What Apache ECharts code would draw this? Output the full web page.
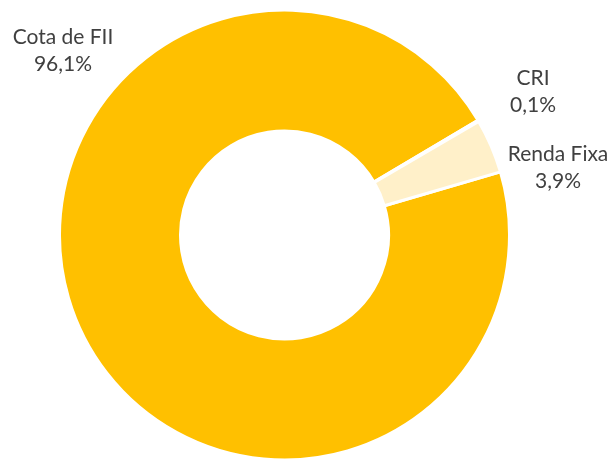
<!DOCTYPE html>
<html>
<head>
<meta charset="utf-8">
<script src="https://cdn.jsdelivr.net/npm/echarts@6/dist/echarts.min.js"></script>
<style>
  html, body { margin: 0; padding: 0; background: #ffffff; }
  #chart { width: 613px; height: 459px; }
</style>
</head>
<body>
<div id="chart"></div>
<script>
// Portfolio allocation by asset class
const categories = ['Cota de FII', 'CRI', 'Renda Fixa'];
const shares = [96.1, 0.1, 3.9];
const shareLabels = ['96,1%', '0,1%', '3,9%'];
const sliceColors = ['#FFC000', '#FFC000', '#FFF0C9'];

// Where each label block sits (centre of the two-line text)
const labelSpots = [[63, 51], [533, 92], [558, 168]];

const chart = echarts.init(document.getElementById('chart'), null, { renderer: 'canvas' });

chart.setOption({
  animation: false,
  backgroundColor: '#ffffff',
  series: [{
    type: 'pie',
    center: [284.5, 235],
    radius: [104, 225],
    startAngle: 16.3,
    clockwise: true,
    avoidLabelOverlap: false,
    itemStyle: { borderColor: '#ffffff', borderWidth: 3 },
    label: {
      show: true,
      position: 'outside',
      formatter: p => categories[p.dataIndex] + '\n' + shareLabels[p.dataIndex],
      fontFamily: 'Lato',
      fontSize: 21,
      lineHeight: 27,
      color: '#404040',
      align: 'center'
    },
    labelLine: { show: false },
    labelLayout: p => ({
      x: labelSpots[p.dataIndex][0],
      y: labelSpots[p.dataIndex][1],
      align: 'center',
      verticalAlign: 'middle'
    }),
    data: categories.map((name, i) => ({
      name,
      value: shares[i],
      itemStyle: { color: sliceColors[i] }
    }))
  }]
});
</script>
</body>
</html>
